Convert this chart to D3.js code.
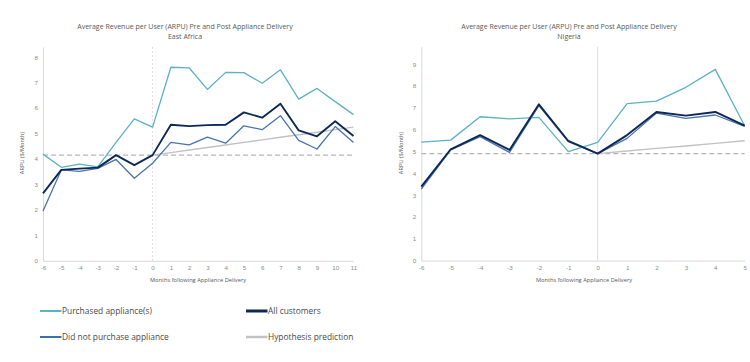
<!DOCTYPE html>
<html>
<head>
<meta charset="utf-8" />
<title>ARPU pre and post appliance delivery</title>
<script src="https://d3js.org/d3.v7.min.js"></script>
<style>
    body { margin: 0; background: #fff; font-family: "Open Sans", "Noto Sans", sans-serif; }
    .tick text { fill: #8c8c8c; font-size: 6.2px; }
    .title { fill: #595959; font-size: 7px; }
    .axtitle { fill: #595959; font-size: 5.7px; }
    .legend { fill: #4a4a4a; font-size: 8.4px; }
</style>
</head>
<body>
<svg id="chart" width="750" height="362"></svg>
<script>
// East Africa, months -6 .. 11
var eaMonths = [-6, -5, -4, -3, -2, -1, 0, 1, 2, 3, 4, 5, 6, 7, 8, 9, 10, 11];
var eaPurchased = [4.19, 3.67, 3.80, 3.69, 4.65, 5.57, 5.25, 7.60, 7.58, 6.73, 7.40, 7.39, 6.97, 7.50, 6.35, 6.77, 6.25, 5.74];
var eaAll = [2.65, 3.57, 3.62, 3.66, 4.15, 3.76, 4.15, 5.34, 5.29, 5.33, 5.34, 5.83, 5.62, 6.17, 5.12, 4.89, 5.48, 4.90];
var eaNotPurchased = [1.96, 3.57, 3.51, 3.63, 3.98, 3.24, 3.83, 4.65, 4.55, 4.86, 4.62, 5.30, 5.15, 5.70, 4.73, 4.39, 5.27, 4.65];
var eaHypMonths = [0, 1, 2, 3, 4, 5, 6, 7, 8, 9, 10, 11];
var eaHypothesis = [4.15, 4.25, 4.35, 4.45, 4.55, 4.65, 4.75, 4.85, 4.95, 5.05, 5.15, 5.25];
var eaBaseline = 4.15;
var eaYTicks = [0, 1, 2, 3, 4, 5, 6, 7, 8];

// Nigeria, months -6 .. 5
var ngMonths = [-6, -5, -4, -3, -2, -1, 0, 1, 2, 3, 4, 5];
var ngPurchased = [5.43, 5.52, 6.59, 6.49, 6.56, 4.99, 5.42, 7.19, 7.31, 7.94, 8.76, 6.17];
var ngAll = [3.39, 5.10, 5.75, 5.07, 7.16, 5.48, 4.90, 5.75, 6.81, 6.64, 6.81, 6.18];
var ngNotPurchased = [3.28, 5.07, 5.68, 4.96, 7.10, 5.45, 4.90, 5.60, 6.76, 6.52, 6.67, 6.15];
var ngHypMonths = [0, 1, 2, 3, 4, 5];
var ngHypothesis = [4.90, 5.02, 5.14, 5.25, 5.37, 5.49];
var ngBaseline = 4.90;
var ngYTicks = [0, 1, 2, 3, 4, 5, 6, 7, 8, 9];

var titleText = "Average Revenue per User (ARPU) Pre and Post Appliance Delivery";
var xTitle = "Months following Appliance Delivery";
var yTitle = "ARPU ($/Month)";

var colPurchased = "#5cb1c4",
    colAll = "#0b2858",
    colNot = "#4a74a9",
    colHyp = "#c2c2c2",
    colAxis = "#d9d9d9";

var svg = d3.select("#chart");

function drawPanel(p) {
    var x = d3.scaleLinear().domain(p.xDomain).range(p.xRange);
    var y = d3.scaleLinear().domain(p.yDomain).range(p.yRange);
    var g = svg.append("g");

    // titles
    g.append("text").attr("class", "title")
        .attr("x", p.titleX).attr("y", 28.5).attr("text-anchor", "middle")
        .text(titleText);
    g.append("text").attr("class", "title")
        .attr("x", p.titleX).attr("y", 39).attr("text-anchor", "middle")
        .text(p.name);

    // axes
    var yAxis = d3.axisLeft(y).tickValues(p.yTicks).tickSize(0).tickPadding(5);
    var gy = g.append("g").attr("transform", "translate(" + p.xRange[0] + ",0)").call(yAxis);
    gy.select(".domain").attr("stroke", colAxis);

    var xAxis = d3.axisBottom(x).tickValues(p.months).tickSize(0).tickPadding(5);
    var gx = g.append("g").attr("transform", "translate(0," + p.yRange[0] + ")").call(xAxis);
    gx.select(".domain").attr("stroke", colAxis);
    gx.selectAll(".tick text").text(function(d){ return d < 0 ? "-" + Math.abs(d) : d; });

    // vertical line at delivery month
    g.append("line")
        .attr("x1", x(0)).attr("x2", x(0))
        .attr("y1", y(p.yDomain[1])).attr("y2", y(0))
        .attr("stroke", "#dcdcdc").attr("stroke-width", 1)
        .attr("stroke-dasharray", p.zeroDash);

    // baseline
    g.append("line")
        .attr("x1", x(p.xDomain[0])).attr("x2", x(p.xDomain[1]))
        .attr("y1", y(p.baseline)).attr("y2", y(p.baseline))
        .attr("stroke", "#b8b8b8").attr("stroke-width", 1.3)
        .attr("stroke-dasharray", "5,3");

    var line = d3.line().x(function(d){ return x(d[0]); }).y(function(d){ return y(d[1]); });

    function series(xs, vals, col, w) {
        g.append("path")
            .datum(d3.zip(xs, vals))
            .attr("d", line)
            .attr("fill", "none")
            .attr("stroke", col)
            .attr("stroke-width", w)
            .attr("stroke-linejoin", "round");
    }
    series(p.hypMonths, p.hypothesis, colHyp, 1.4);
    series(p.months, p.notPurchased, colNot, 1.3);
    series(p.months, p.purchased, colPurchased, 1.3);
    series(p.months, p.all, colAll, 1.9);

    // axis titles
    g.append("text").attr("class", "axtitle")
        .attr("x", p.xTitleX).attr("y", 282).attr("text-anchor", "middle")
        .text(xTitle);
    g.append("text").attr("class", "axtitle")
        .attr("transform", "translate(" + p.yTitleX + ",153) rotate(-90)")
        .attr("text-anchor", "middle")
        .text(yTitle);
}

drawPanel({
    name: "East Africa",
    months: eaMonths, purchased: eaPurchased, all: eaAll, notPurchased: eaNotPurchased,
    hypMonths: eaHypMonths, hypothesis: eaHypothesis, baseline: eaBaseline,
    yTicks: eaYTicks,
    xDomain: [-6, 11], xRange: [43, 353.5],
    yDomain: [0, 8.4], yRange: [260.8, 46.9],
    titleX: 185, xTitleX: 198, yTitleX: 24, zeroDash: "2,2"
});

drawPanel({
    name: "Nigeria",
    months: ngMonths, purchased: ngPurchased, all: ngAll, notPurchased: ngNotPurchased,
    hypMonths: ngHypMonths, hypothesis: ngHypothesis, baseline: ngBaseline,
    yTicks: ngYTicks,
    xDomain: [-6, 5], xRange: [421.3, 744.7],
    yDomain: [0, 9.8], yRange: [260.6, 46.7],
    titleX: 569, xTitleX: 584, yTitleX: 403, zeroDash: null
});

// legend
var legendItems = [
    { label: "Purchased appliance(s)", color: colPurchased, w: 2, x: 40, y: 311 },
    { label: "Did not purchase appliance", color: "#3a6fb0", w: 2, x: 40, y: 337 },
    { label: "All customers", color: colAll, w: 3, x: 246, y: 311 },
    { label: "Hypothesis prediction", color: colHyp, w: 2.5, x: 246, y: 337 }
];
var lg = svg.append("g").selectAll("g").data(legendItems).enter().append("g")
    .attr("transform", function(d){ return "translate(" + d.x + "," + d.y + ")"; });
lg.append("line").attr("x1", 0).attr("x2", 21.5).attr("y1", 0).attr("y2", 0)
    .attr("stroke", function(d){ return d.color; })
    .attr("stroke-width", function(d){ return d.w; });
lg.append("text").attr("class", "legend").attr("x", 22).attr("y", 3)
    .text(function(d){ return d.label; });
</script>
</body>
</html>
